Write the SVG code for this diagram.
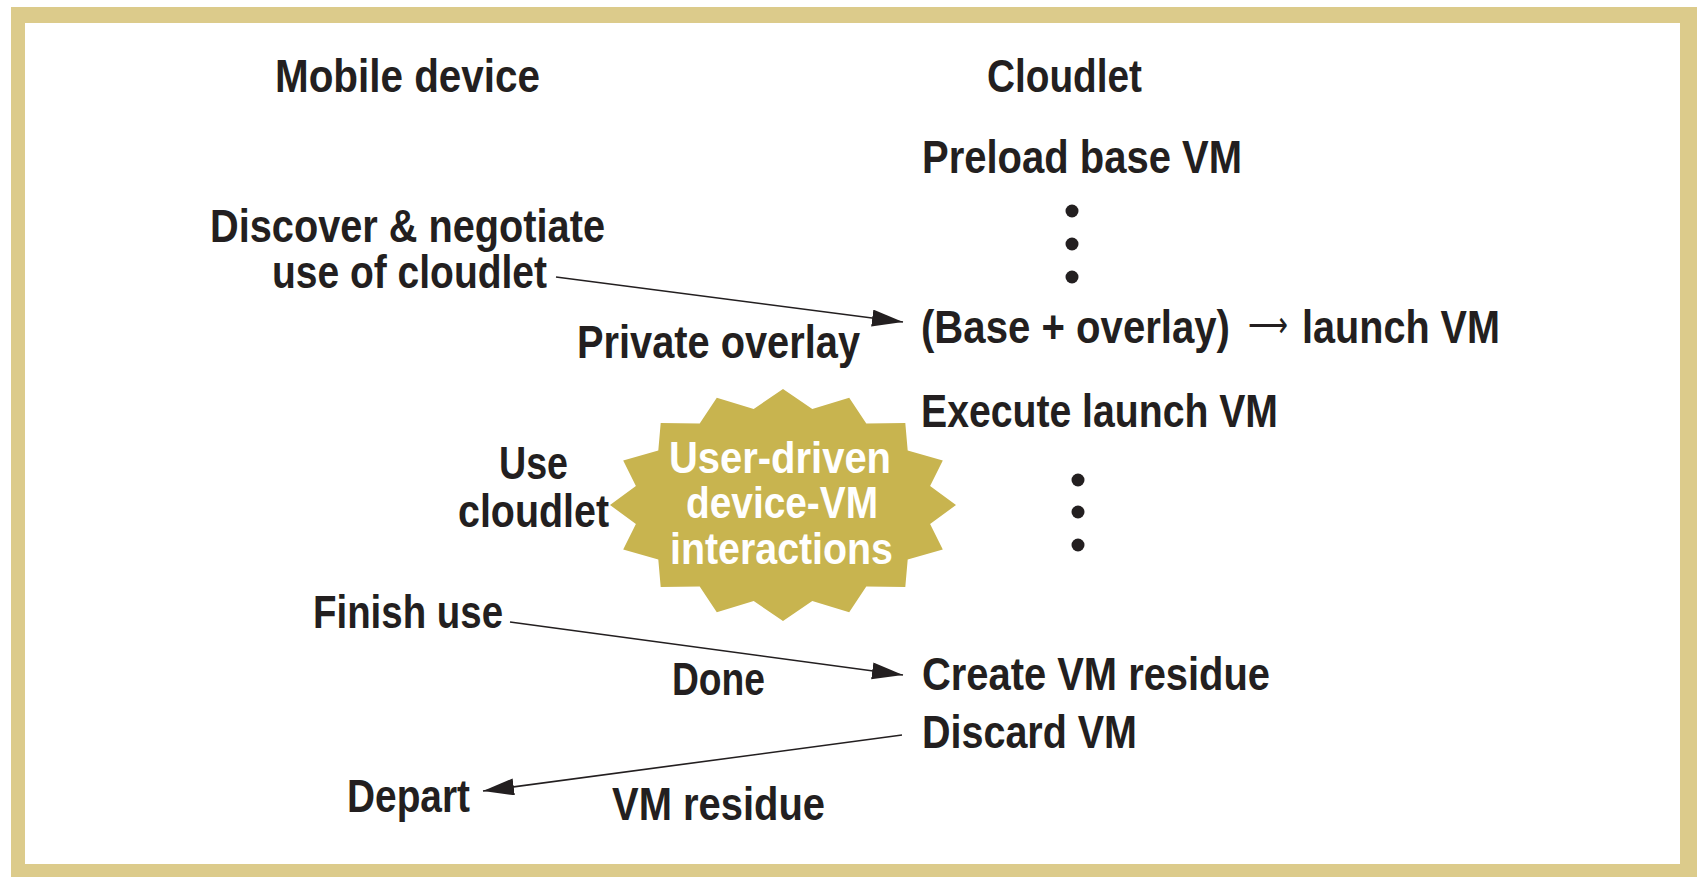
<svg xmlns="http://www.w3.org/2000/svg" width="1697" height="877" viewBox="0 0 1697 877">
<style>
.t{font-family:"Liberation Sans",Arial,sans-serif;font-weight:bold;font-size:46px;fill:#231f20}
.a{font-family:"DejaVu Sans",sans-serif;font-size:36px;fill:#231f20}
.w{font-family:"Liberation Sans",Arial,sans-serif;font-weight:bold;font-size:44px;fill:#ffffff}
.c{fill:none;stroke:#231f20;stroke-width:1.6}
.dot{fill:#231f20}
</style>
<defs>
<marker id="ah" markerUnits="userSpaceOnUse" markerWidth="32" markerHeight="18" refX="31" refY="8.5" orient="auto">
<path d="M0,0 L31,8.5 L0,17 z" fill="#231f20"/>
</marker>
</defs>
<rect x="0" y="0" width="1697" height="877" fill="#ffffff"/>
<rect x="11" y="7" width="1686" height="870" fill="#dccb8b"/>
<rect x="25" y="23" width="1655" height="841" fill="#ffffff"/>

<g id="header-mobile"><text class="t" x="275" y="92" textLength="265" lengthAdjust="spacingAndGlyphs">Mobile device</text></g>
<g id="header-cloudlet"><text class="t" x="987" y="92" textLength="155" lengthAdjust="spacingAndGlyphs">Cloudlet</text></g>

<g id="preload"><text class="t" x="922" y="173" textLength="320" lengthAdjust="spacingAndGlyphs">Preload base VM</text></g>
<g id="dots1">
<circle class="dot" cx="1072" cy="211" r="6.5"/>
<circle class="dot" cx="1072" cy="244" r="6.5"/>
<circle class="dot" cx="1072" cy="277" r="6.5"/>
</g>
<g id="discover">
<text class="t" x="210" y="242" textLength="395" lengthAdjust="spacingAndGlyphs">Discover &amp; negotiate</text>
<text class="t" x="272" y="288" textLength="275" lengthAdjust="spacingAndGlyphs">use of cloudlet</text>
</g>
<g id="launch">
<text class="t" x="921" y="343" textLength="309" lengthAdjust="spacingAndGlyphs">(Base + overlay)</text>
<text class="a" x="1248" y="337" textLength="40" lengthAdjust="spacingAndGlyphs">⟶</text>
<text class="t" x="1302" y="343" textLength="198" lengthAdjust="spacingAndGlyphs">launch VM</text>
</g>
<g id="execute"><text class="t" x="921" y="427" textLength="357" lengthAdjust="spacingAndGlyphs">Execute launch VM</text></g>
<g id="dots2">
<circle class="dot" cx="1078" cy="480" r="6.5"/>
<circle class="dot" cx="1078" cy="512" r="6.5"/>
<circle class="dot" cx="1078" cy="545" r="6.5"/>
</g>
<g id="use-cloudlet">
<text class="t" x="499" y="479" textLength="69" lengthAdjust="spacingAndGlyphs">Use</text>
<text class="t" x="458" y="527" textLength="151" lengthAdjust="spacingAndGlyphs">cloudlet</text>
</g>
<g id="starburst">
<polygon fill="#c8b44f" points="783,389 812.3,408.9 849.2,397.8 866.3,423.5 905.3,423 907.7,450.6 942.8,460.6 930.1,485.9 956,505 930.1,524.1 942.8,549.4 907.7,559.4 905.3,587 866.3,586.5 849.2,612.2 812.3,601.1 783,621 753.7,601.1 716.8,612.2 699.7,586.5 660.7,587 658.3,559.4 623.2,549.4 635.9,524.1 610,505 635.9,485.9 623.2,460.6 658.3,450.6 660.7,423 699.7,423.5 716.8,397.8 753.7,408.9"/>
<text class="w" x="669" y="473" textLength="222" lengthAdjust="spacingAndGlyphs">User-driven</text>
<text class="w" x="686" y="518" textLength="192" lengthAdjust="spacingAndGlyphs">device-VM</text>
<text class="w" x="670" y="564" textLength="223" lengthAdjust="spacingAndGlyphs">interactions</text>
</g>
<g id="finish"><text class="t" x="313" y="628" textLength="190" lengthAdjust="spacingAndGlyphs">Finish use</text></g>
<g id="create"><text class="t" x="922" y="690" textLength="348" lengthAdjust="spacingAndGlyphs">Create VM residue</text></g>
<g id="discard"><text class="t" x="922" y="748" textLength="215" lengthAdjust="spacingAndGlyphs">Discard VM</text></g>
<g id="depart"><text class="t" x="347" y="812" textLength="123" lengthAdjust="spacingAndGlyphs">Depart</text></g>

<g id="connectors">
<line class="c" x1="556" y1="277" x2="903" y2="322" marker-end="url(#ah)"/>
<line class="c" x1="510" y1="622" x2="903" y2="675" marker-end="url(#ah)"/>
<line class="c" x1="902" y1="735" x2="483" y2="791" marker-end="url(#ah)"/>
<text class="t" x="577" y="358" textLength="283" lengthAdjust="spacingAndGlyphs">Private overlay</text>
<text class="t" x="672" y="695" textLength="93" lengthAdjust="spacingAndGlyphs">Done</text>
<text class="t" x="612" y="820" textLength="213" lengthAdjust="spacingAndGlyphs">VM residue</text>
</g>
</svg>
